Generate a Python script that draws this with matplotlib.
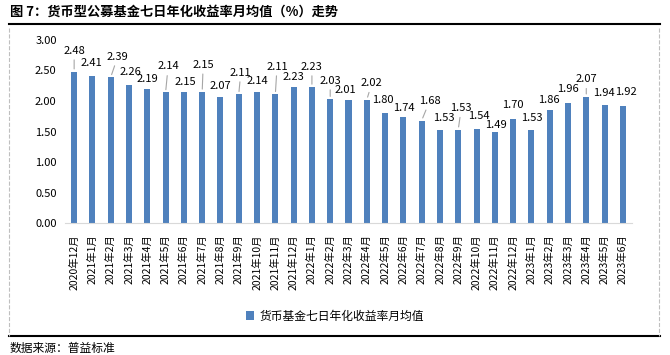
import matplotlib.pyplot as plt
from matplotlib.lines import Line2D

plt.rcParams['font.family'] = ['Noto Sans CJK SC', 'DejaVu Sans']

months = ['2020年12月',
          '2021年1月', '2021年2月', '2021年3月', '2021年4月', '2021年5月', '2021年6月',
          '2021年7月', '2021年8月', '2021年9月', '2021年10月', '2021年11月', '2021年12月',
          '2022年1月', '2022年2月', '2022年3月', '2022年4月', '2022年5月', '2022年6月',
          '2022年7月', '2022年8月', '2022年9月', '2022年10月', '2022年11月', '2022年12月',
          '2023年1月', '2023年2月', '2023年3月', '2023年4月', '2023年5月', '2023年6月']
yields = [2.48, 2.41, 2.39, 2.26, 2.19, 2.14, 2.15, 2.15, 2.07, 2.11, 2.14, 2.11, 2.23,
          2.23, 2.03, 2.01, 2.02, 1.80, 1.74, 1.68, 1.53, 1.53, 1.54, 1.49, 1.70,
          1.53, 1.86, 1.96, 2.07, 1.94, 1.92]
series_name = '货币基金七日年化收益率月均值'
yticks = [0.0, 0.5, 1.0, 1.5, 2.0, 2.5, 3.0]

# label offsets in pixels (dx, dy) and which labels have a leader line
label_dx = [0, -1, 7, 1, 0, 2.5, 1, 1, 0, 2, 0, 1.7, 0, 0, 0, -3, 5, -2, 1, 8, 4, 3, 2, 1, 0, 0, -1, 0, 0, -1, 3]
label_dy = [21, 13, 20.5, 12.8, 10, 26, 10, 27, 11, 21.6, 11, 27.6, 10.3, 20.3, 18.5, 10.4, 16.5, 13, 9, 19.5,
            12, 21.4, 13, 7, 14.3, 11.4, 10, 14, 17.4, 11.4, 13.6]
leaders = [0, 2, 5, 7, 9, 11, 13, 14, 16, 19, 21, 28]

W, H = 670, 355
fig = plt.figure(figsize=(6.7, 3.55), dpi=100)
ax = fig.add_axes([65 / W, 1 - 223 / H, (632 - 65) / W, (223 - 40) / H])

x = range(len(yields))
ax.bar(x, yields, width=0.33, color='#4F81BD', label=series_name)
ax.set_xlim(-0.5, len(yields) - 0.5)
ax.set_ylim(0, 3)
ax.set_yticks(yticks)
ax.set_yticklabels(['%.2f' % t for t in yticks], fontsize=8)
ax.set_xticks(list(x))
ax.set_xticklabels(months, rotation=90, fontsize=7.5)
ax.tick_params(axis='y', length=0, pad=6)
ax.tick_params(axis='x', length=0, pad=8)
for s in ['top', 'right', 'left']:
    ax.spines[s].set_visible(False)
ax.spines['bottom'].set_color('#d9d9d9')

for i, v in enumerate(yields):
    if i in leaders:
        ax.annotate('%.2f' % v, xy=(i, v), xytext=(label_dx[i], label_dy[i]),
                    textcoords='offset pixels', ha='center', va='center', fontsize=8,
                    arrowprops=dict(arrowstyle='-', color='#a6a6a6', lw=0.8, shrinkA=1, shrinkB=2))
    else:
        ax.annotate('%.2f' % v, xy=(i, v), xytext=(label_dx[i], label_dy[i]),
                    textcoords='offset pixels', ha='center', va='center', fontsize=8)

ax.legend(loc='center', bbox_to_anchor=(0.5, 1 - 316 / H), bbox_transform=fig.transFigure,
          frameon=False, fontsize=8.5, handlelength=0.7, handleheight=0.7, handletextpad=0.5)

# frame lines
fig.add_artist(Line2D([9 / W, 660 / W], [1 - 24 / H, 1 - 24 / H], color='black', lw=1.5))
fig.add_artist(Line2D([9 / W, 660 / W], [1 - 336 / H, 1 - 336 / H], color='black', lw=1.5))
fig.add_artist(Line2D([9 / W, 9 / W], [1 - 28 / H, 1 - 336 / H], color='#bfbfbf', lw=0.8, ls='--'))
fig.add_artist(Line2D([659 / W, 659 / W], [1 - 28 / H, 1 - 336 / H], color='#bfbfbf', lw=0.8, ls='--'))

fig.text(10 / W, 1 - 12 / H, '图 7：货币型公募基金七日年化收益率月均值（%）走势',
         fontsize=9.5, fontweight='bold', va='center', ha='left')
fig.text(10 / W, 1 - 348 / H, '数据来源：普益标准', fontsize=8.5, va='center', ha='left')

plt.savefig('out.png', dpi=100)
